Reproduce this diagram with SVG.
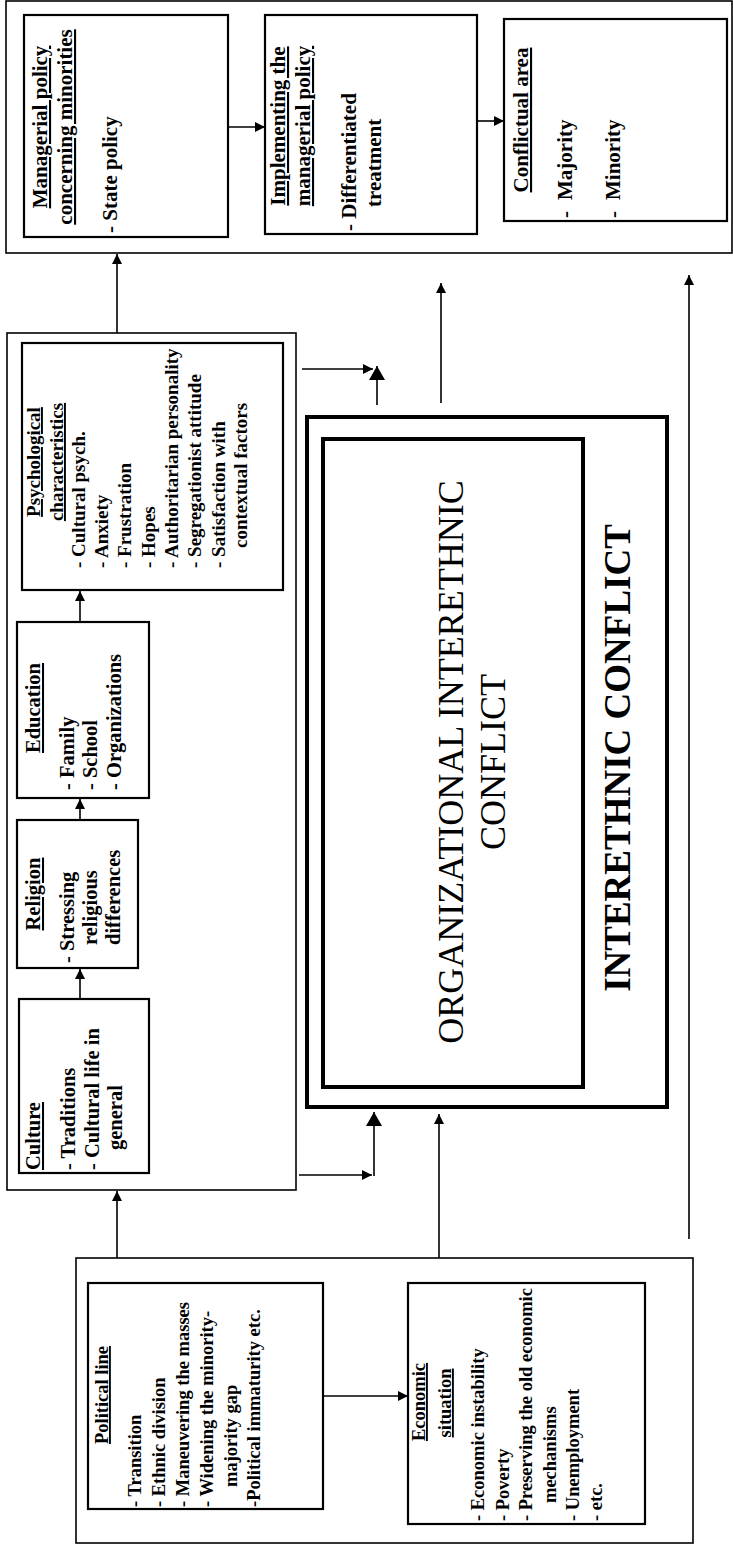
<svg xmlns="http://www.w3.org/2000/svg" width="733" height="1552" viewBox="0 0 733 1552">
  <style>
    .box { fill: none; stroke: #000; stroke-width: 2.2; }
    .frame { fill: none; stroke: #000; stroke-width: 1.6; }
    .heavy { fill: none; stroke: #000; stroke-width: 4; }
    .conn { fill: none; stroke: #000; stroke-width: 1.6; }
    text { font-family: "Liberation Serif", "Times New Roman", serif; fill: #000; }
    .b21 { font-weight: bold; font-size: 21px; }
    .b20 { font-weight: bold; font-size: 20.5px; }
    .b19 { font-weight: bold; font-size: 19px; }
    .b18 { font-weight: bold; font-size: 18.5px; }
    .u { text-decoration: underline; text-decoration-thickness: 2px; }
    .mid { text-anchor: middle; }
    .big { font-size: 36px; }
    .bigb { font-size: 37px; font-weight: bold; }
  </style>
  <defs>
    <marker id="head" markerUnits="userSpaceOnUse" markerWidth="10" markerHeight="10" refX="10" refY="5" orient="auto">
      <path d="M0,0 L10,5 L0,10 z" fill="#000"/>
    </marker>
    <marker id="headL" markerUnits="userSpaceOnUse" markerWidth="14" markerHeight="16" refX="14" refY="8" orient="auto">
      <path d="M0,0 L14,8 L0,16 z" fill="#000"/>
    </marker>
  </defs>

  <rect x="0" y="0" width="733" height="1552" fill="#fff"/>

  <!-- top container: policy chain -->
  <g id="policy-frame">
    <rect class="frame" x="6" y="1" width="726" height="252"/>
  </g>

  <g id="managerial-policy">
    <rect class="box" x="24" y="15" width="204" height="222"/>
    <g transform="rotate(-90)" class="b21">
      <text class="mid u" x="-127" y="47">Managerial policy</text>
      <text class="mid u" x="-127" y="72">concerning minorities</text>
      <text x="-233" y="117">- State policy</text>
    </g>
  </g>

  <g id="implementing-policy">
    <rect class="box" x="265" y="15" width="212" height="219"/>
    <g transform="rotate(-90)" class="b21">
      <text class="mid u" x="-126" y="285">Implementing the</text>
      <text class="mid u" x="-126" y="310">managerial policy</text>
      <text x="-231" y="356">- Differentiated</text>
      <text x="-207" y="381">treatment</text>
    </g>
  </g>

  <g id="conflictual-area">
    <rect class="box" x="504" y="19" width="223" height="202"/>
    <g transform="rotate(-90)" class="b21">
      <text class="mid u" x="-120" y="528">Conflictual area</text>
      <text x="-218" y="572">-</text>
      <text x="-200" y="572">Majority</text>
      <text x="-218" y="620">-</text>
      <text x="-200" y="620">Minority</text>
    </g>
  </g>

  <!-- middle container: cultural factors -->
  <g id="cultural-frame">
    <rect class="frame" x="7" y="333" width="289" height="857"/>
  </g>

  <g id="psychological">
    <rect class="box" x="22" y="343" width="261" height="247"/>
    <g transform="rotate(-90)" class="b19">
      <text class="mid u" x="-462" y="40">Psychological</text>
      <text class="mid u" x="-462" y="63">characteristics</text>
      <text x="-568" y="85">- Cultural psych.</text>
      <text x="-568" y="108">- Anxiety</text>
      <text x="-568" y="131">- Frustration</text>
      <text x="-568" y="155">- Hopes</text>
      <text x="-568" y="178">- Authoritarian personality</text>
      <text x="-568" y="201">- Segregationist attitude</text>
      <text x="-568" y="225">- Satisfaction with</text>
      <text x="-548" y="247">contextual factors</text>
    </g>
  </g>

  <g id="education">
    <rect class="box" x="17" y="622" width="132" height="176"/>
    <g transform="rotate(-90)" class="b20">
      <text class="mid u" x="-708" y="40">Education</text>
      <text x="-790" y="74">- Family</text>
      <text x="-790" y="97">- School</text>
      <text x="-790" y="121">- Organizations</text>
    </g>
  </g>

  <g id="religion">
    <rect class="box" x="17" y="820" width="121" height="148"/>
    <g transform="rotate(-90)" class="b20">
      <text class="mid u" x="-894" y="40">Religion</text>
      <text x="-963" y="74">- Stressing</text>
      <text x="-945" y="97">religious</text>
      <text x="-945" y="120">differences</text>
    </g>
  </g>

  <g id="culture">
    <rect class="box" x="19" y="999" width="130" height="174"/>
    <g transform="rotate(-90)" class="b20">
      <text class="u" x="-1170" y="40">Culture</text>
      <text x="-1170" y="75">- Traditions</text>
      <text x="-1170" y="99">- Cultural life in</text>
      <text x="-1150" y="122">general</text>
    </g>
  </g>

  <!-- central conflict boxes -->
  <g id="interethnic-conflict">
    <rect class="heavy" x="307" y="417" width="360" height="690"/>
    <g transform="rotate(-90)">
      <text class="bigb mid" x="-758" y="630">INTERETHNIC CONFLICT</text>
    </g>
  </g>

  <g id="organizational-conflict">
    <rect class="heavy" x="323" y="439" width="260" height="648"/>
    <g transform="rotate(-90)" class="big">
      <text class="mid" x="-762" y="463">ORGANIZATIONAL INTERETHNIC</text>
      <text class="mid" x="-762" y="505">CONFLICT</text>
    </g>
  </g>

  <!-- bottom container: political and economic context -->
  <g id="context-frame">
    <rect class="frame" x="76" y="1258" width="617" height="285"/>
  </g>

  <g id="political-line">
    <rect class="box" x="88" y="1283" width="235" height="226"/>
    <g transform="rotate(-90)" class="b18">
      <text class="mid u" x="-1395" y="108">Political line</text>
      <text x="-1507" y="141">- Transition</text>
      <text x="-1507" y="165">- Ethnic division</text>
      <text x="-1507" y="189">- Maneuvering the masses</text>
      <text x="-1507" y="213">- Widening the minority-</text>
      <text x="-1487" y="237">majority gap</text>
      <text x="-1507" y="260">-Political immaturity etc.</text>
    </g>
  </g>

  <g id="economic-situation">
    <rect class="box" x="408" y="1283" width="237" height="241"/>
    <g transform="rotate(-90)" class="b18">
      <text class="mid u" x="-1402" y="425">Economic</text>
      <text class="mid u" x="-1403" y="451">situation</text>
      <text x="-1521" y="484">- Economic instability</text>
      <text x="-1521" y="509">- Poverty</text>
      <text x="-1521" y="532">- Preserving the old economic</text>
      <text x="-1503" y="556">mechanisms</text>
      <text x="-1521" y="579">- Unemployment</text>
      <text x="-1521" y="602">- etc.</text>
    </g>
  </g>

  <!-- connectors -->
  <g id="connectors" class="conn">
    <line x1="228" y1="127" x2="265" y2="127" marker-end="url(#head)"/>
    <line x1="477" y1="121" x2="504" y2="121" marker-end="url(#head)"/>
    <line x1="117" y1="333" x2="117" y2="254" marker-end="url(#head)"/>
    <line x1="80" y1="622" x2="80" y2="591" marker-end="url(#head)"/>
    <line x1="80" y1="820" x2="80" y2="799" marker-end="url(#head)"/>
    <line x1="80" y1="999" x2="80" y2="969" marker-end="url(#head)"/>
    <line x1="117" y1="1258" x2="117" y2="1191" marker-end="url(#head)"/>
    <line x1="302" y1="369" x2="373" y2="369" marker-end="url(#head)"/>
    <line x1="377" y1="405" x2="377" y2="366" marker-end="url(#headL)"/>
    <line x1="441" y1="403" x2="441" y2="283" marker-end="url(#head)"/>
    <line x1="689" y1="1239" x2="689" y2="275" marker-end="url(#head)"/>
    <line x1="299" y1="1175" x2="372" y2="1175" marker-end="url(#head)"/>
    <line x1="374" y1="1176" x2="374" y2="1112" marker-end="url(#headL)"/>
    <line x1="439" y1="1258" x2="439" y2="1114" marker-end="url(#head)"/>
    <line x1="323" y1="1396" x2="408" y2="1396" marker-end="url(#head)"/>
  </g>
</svg>
